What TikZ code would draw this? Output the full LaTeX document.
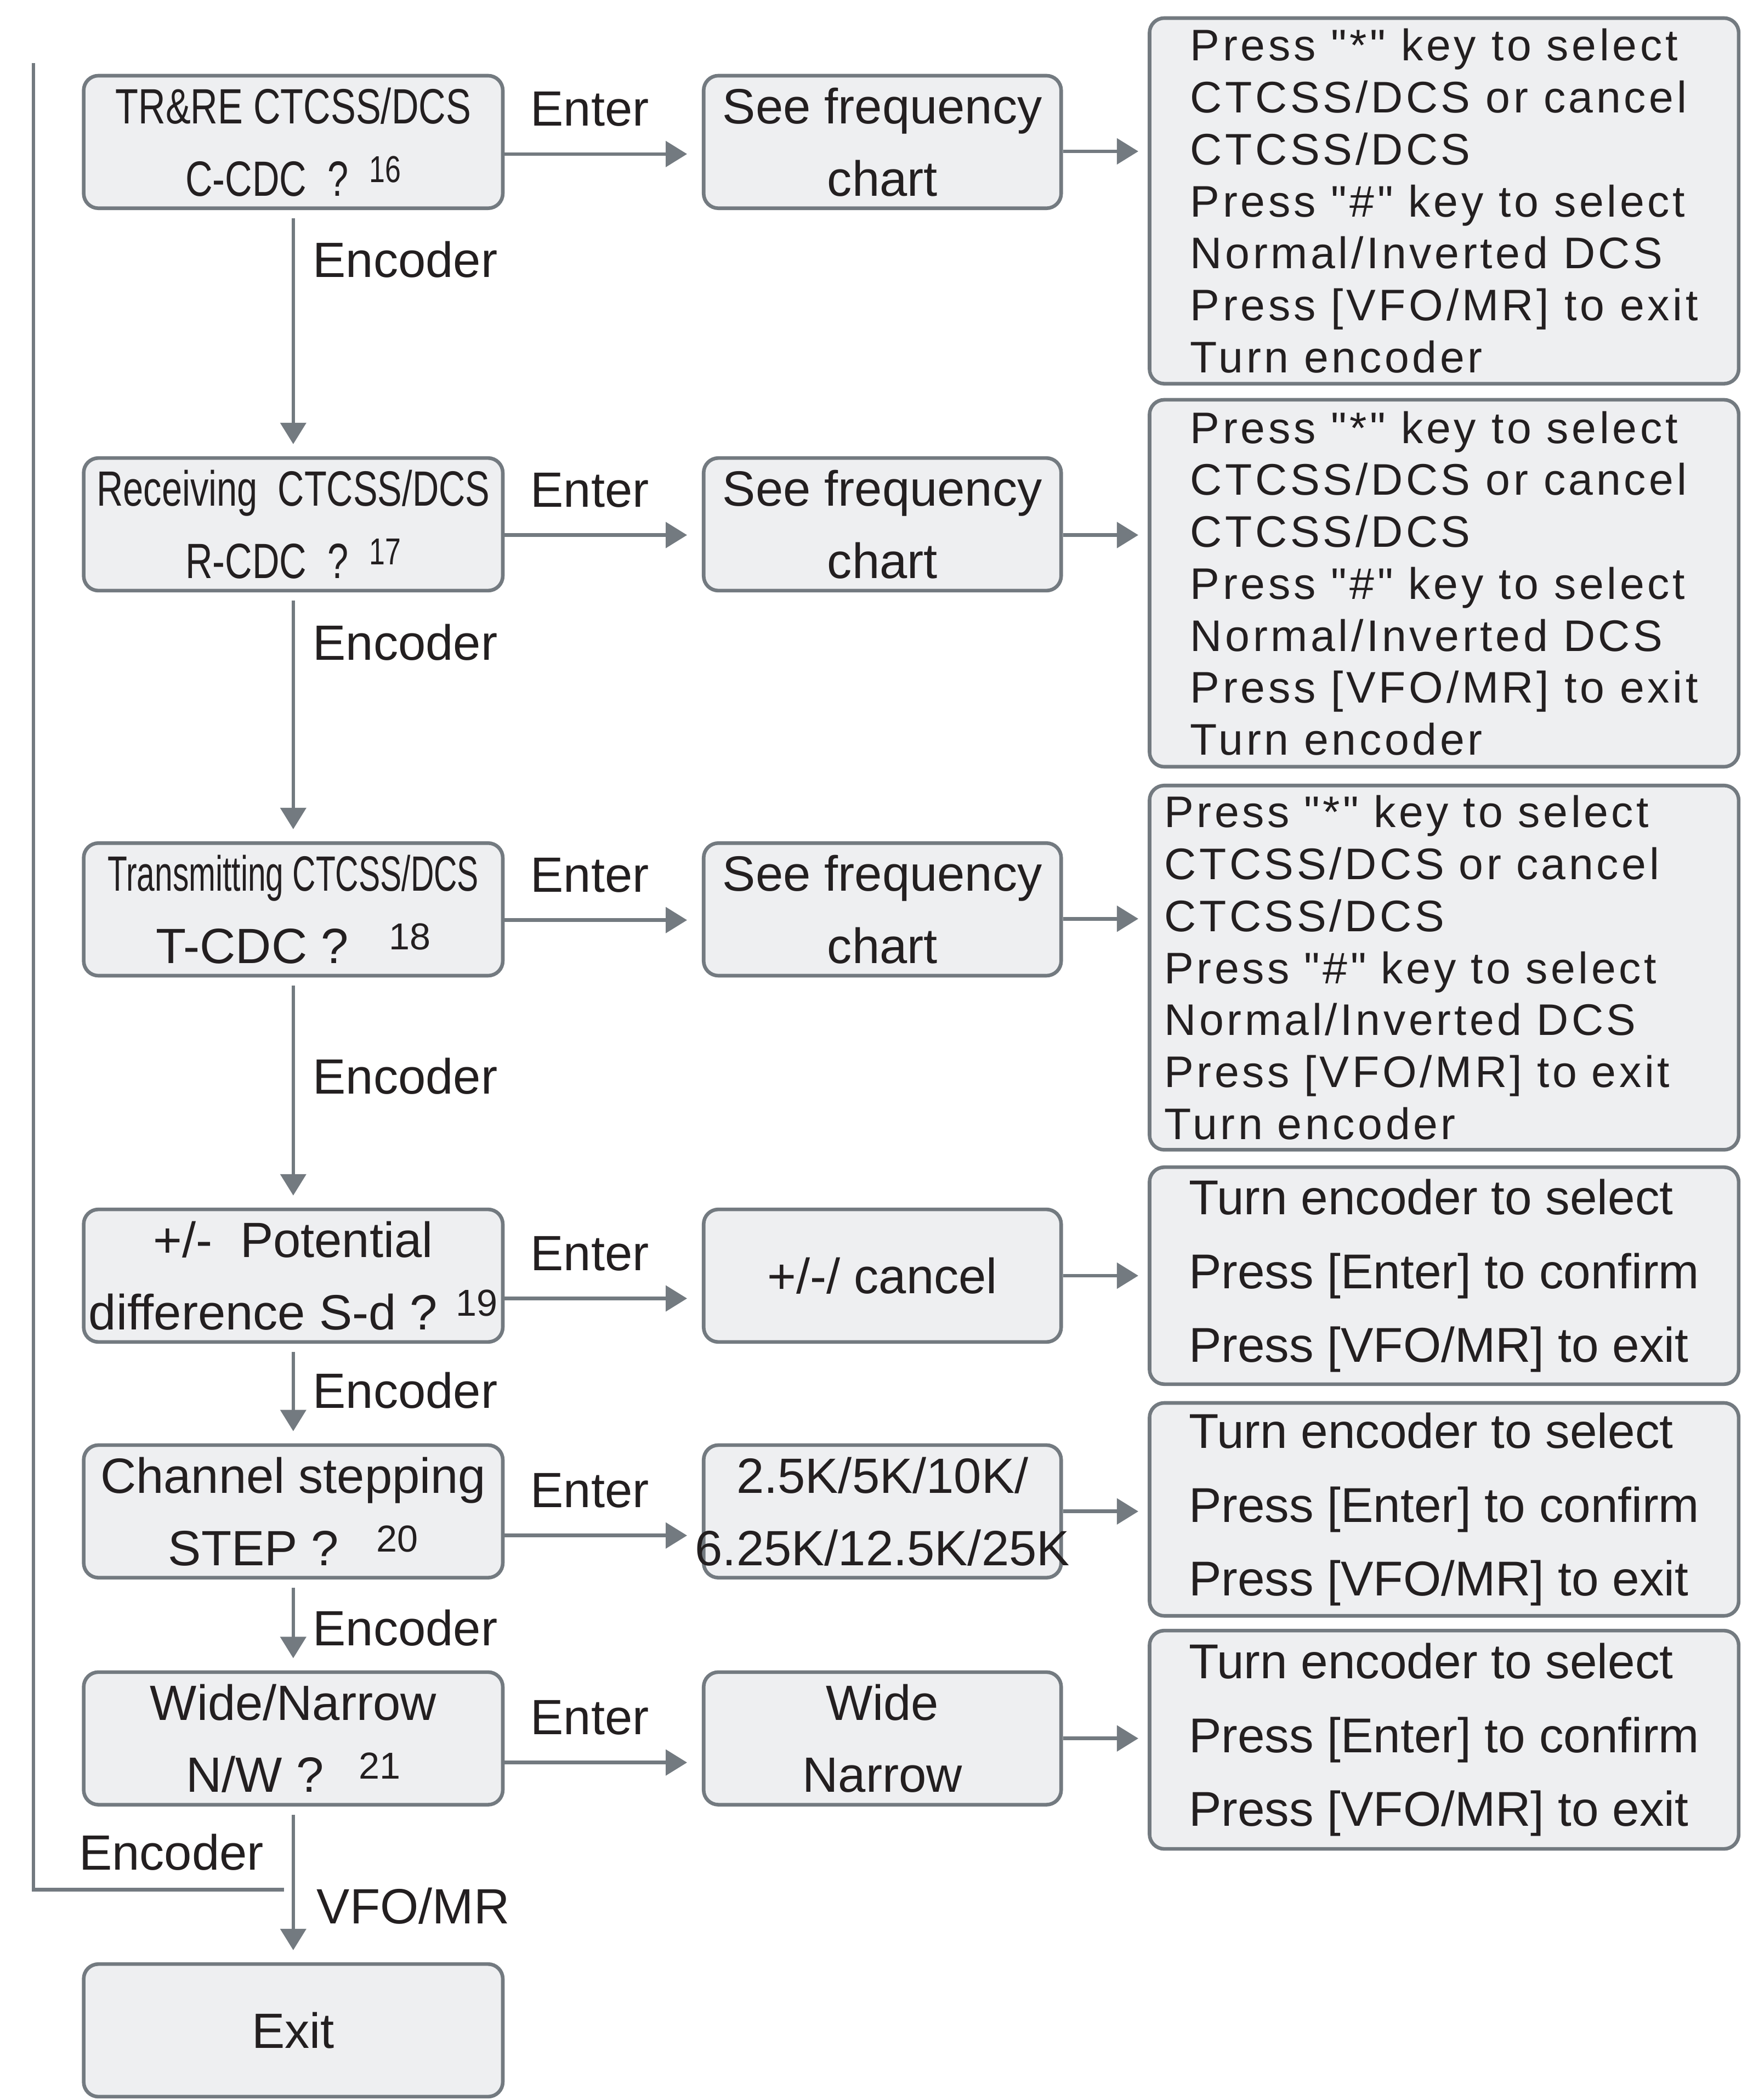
\documentclass[tikz,border=0pt]{standalone}
\usepackage{fontspec}
\setmainfont{Liberation Sans}
\newfontfamily\keyfont{Liberation Sans}[LetterSpace=7]
\usepackage{graphicx}
\usetikzlibrary{arrows.meta}
\definecolor{linegray}{HTML}{737A80}
\definecolor{boxfill}{HTML}{EEEFF1}
\definecolor{ink}{HTML}{231F20}
\newcommand{\squeeze}[2]{\scalebox{#1}[1]{#2}}
\newcommand{\menuno}[1]{\raisebox{10pt}{\fontsize{28}{28}\selectfont #1}}

\begin{document}
\begin{tikzpicture}
  [x=1pt,y=1pt,
   every node/.style={text=ink,font=\fontsize{37}{54}\selectfont},
   menu/.style={draw=linegray,fill=boxfill,line width=2.7pt,rounded corners=11pt,align=center,inner sep=0pt,minimum width=313pt,minimum height=99pt},
   choice/.style={menu,minimum width=267pt},
   hint/.style={menu,minimum width=440pt,align=left},
   keys/.style={font=\keyfont\fontsize{33}{38.8}\selectfont},
   turn/.style={font=\fontsize{36.5}{55}\selectfont},
   arr/.style={draw=linegray,line width=2.7pt,-{Triangle[length=16pt,width=19pt]},shorten >=9pt}]
  \useasboundingbox (0,0) rectangle (1309,-1568);

  \node[menu] (l1) at (219,-106) {\squeeze{0.76}{TR\&RE CTCSS/DCS}\\\squeeze{0.76}{C-CDC\ \ ?\ \ \menuno{16}}};
  \node[menu] (l2) at (219,-391.5) {\squeeze{0.74}{Receiving\ \ CTCSS/DCS}\\\squeeze{0.76}{R-CDC\ \ ?\ \ \menuno{17}}};
  \node[menu] (l3) at (219,-679) {\squeeze{0.65}{Transmitting CTCSS/DCS}\\T-CDC ?\hspace{30pt}\menuno{18}};
  \node[menu] (l4) at (219,-952.5) {+/-\ \ Potential\\difference S-d ? \menuno{19}};
  \node[menu] (l5) at (219,-1128.5) {Channel stepping\\STEP ?\hspace{28pt}\menuno{20}};
  \node[menu] (l6) at (219,-1298) {Wide/Narrow\\N/W ?\hspace{26pt}\menuno{21}};
  \node[menu] (exit) at (219,-1516) {Exit};

  \node[choice] (m1) at (659,-106) {See frequency\\chart};
  \node[choice] (m2) at (659,-391.5) {See frequency\\chart};
  \node[choice] (m3) at (659,-679) {See frequency\\chart};
  \node[choice] (m4) at (659,-952.5) {+/-/ cancel};
  \node[choice] (m5) at (659,-1128.5) {2.5K/5K/10K/\\\makebox[0pt]{6.25K/12.5K/25K}};
  \node[choice] (m6) at (659,-1298) {Wide\\Narrow};

  \node[hint,keys,minimum height=273pt] (r1) at (1078.5,-150) {Press "*" key to select\\CTCSS/DCS or cancel\\CTCSS/DCS\\Press "\#" key to select\\Normal/Inverted DCS\\Press [VFO/MR] to exit\\Turn encoder};
  \node[hint,keys,minimum height=274pt] (r2) at (1078.5,-435.5) {Press "*" key to select\\CTCSS/DCS or cancel\\CTCSS/DCS\\Press "\#" key to select\\Normal/Inverted DCS\\Press [VFO/MR] to exit\\Turn encoder};
  \node[hint,keys,minimum height=272pt,text width=418pt,inner xsep=11pt] (r3) at (1078.5,-722.5) {Press "*" key to select\\CTCSS/DCS or cancel\\CTCSS/DCS\\Press "\#" key to select\\Normal/Inverted DCS\\Press [VFO/MR] to exit\\Turn encoder};
  \node[hint,turn,minimum height=162pt] (r4) at (1078.5,-952.5) {Turn encoder to select\\Press [Enter] to confirm\\Press [VFO/MR] to exit};
  \node[hint,turn,minimum height=159pt] (r5) at (1078.5,-1127) {Turn encoder to select\\Press [Enter] to confirm\\Press [VFO/MR] to exit};
  \node[hint,turn,minimum height=163pt] (r6) at (1078.5,-1299) {Turn encoder to select\\Press [Enter] to confirm\\Press [VFO/MR] to exit};

  \foreach \a/\b/\s in {l1/m1/-9,l2/m2/-8,l3/m3/-8,l4/m4/-17,l5/m5/-18,l6/m6/-18}
    \draw[arr,shorten >=11pt] ([yshift=\s pt]\a.east) -- node[above=16pt,xshift=-10pt] (en\a) {Enter} ([yshift=\s pt]\a.east -| \b.west);
  \foreach \a/\b/\s in {m1/r1/-7,m2/r2/-8,m3/r3/-7,m4/r4/0,m5/r5/0,m6/r6/0}
    \draw[arr,shorten >=7pt] ([yshift=\s pt]\a.east) -- ([yshift=\s pt]\a.east -| \b.west);
  \foreach \a/\b/\p in {l1/l2/0.2,l2/l3/0.2,l3/l4/0.43,l4/l5/0.47,l5/l6/0.53}
    \draw[arr,shorten <=6pt] (\a) -- node[right=10pt,pos=\p] (enc\a) {Encoder} (\b);
  \draw[arr,shorten <=6pt] (l6) -- node[right=13pt,pos=0.64] (vfo) {VFO/MR} (exit);

  \coordinate (ret) at (212,-1411);
  \coordinate (top) at (25,-47);
  \draw[draw=linegray,line width=2.7pt] (ret) -| (top);
  \node (encret) at (128,-1383) {Encoder};
\end{tikzpicture}
\end{document}
